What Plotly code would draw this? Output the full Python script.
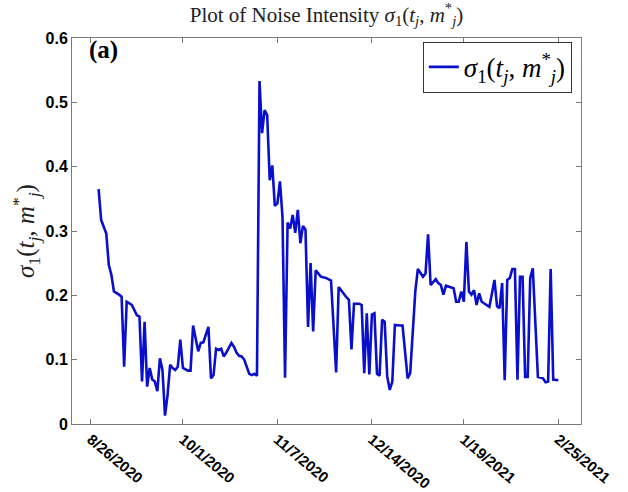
import pandas as pd
import plotly.graph_objects as go

# days after 8/26/2020
day_offsets = [3, 4, 6, 7, 8, 9, 11, 12, 13, 14, 16, 17, 18, 19, 20, 21, 22, 23, 24, 25,
               26, 27, 28, 29, 30, 31, 32, 33, 34, 35, 36, 38, 39, 40, 41, 42, 43, 44, 45, 46,
               47, 48, 49, 50, 51, 52, 53, 55, 56, 57, 58, 59, 60, 62, 63, 64, 65, 66, 67, 68,
               69, 70, 71, 72, 73, 74, 75, 76, 77, 78, 79, 80, 81, 82, 83, 84, 85, 86, 87, 88,
               90, 92, 94, 96, 97, 99, 100, 101, 102, 103, 105, 106, 107, 108, 109, 110, 111, 112, 113, 114,
               115, 116, 117, 118, 119, 121, 122, 124, 125, 127, 128, 130, 131, 132, 133, 135, 136, 137, 138, 139,
               141, 142, 143, 144, 145, 146, 147, 148, 149, 150, 151, 152, 153, 155, 156, 157, 158, 159, 160, 161,
               162, 163, 164, 165, 166, 167, 168, 169, 170, 171, 172, 173, 175, 177, 178, 179, 180, 181, 183]

sigma1 = [0.365, 0.317, 0.296, 0.247, 0.232, 0.206, 0.201, 0.198, 0.089, 0.190, 0.185, 0.177, 0.169, 0.167, 0.066, 0.159, 0.058, 0.087, 0.069, 0.066,
          0.051, 0.102, 0.084, 0.013, 0.045, 0.092, 0.087, 0.084, 0.089, 0.131, 0.087, 0.083, 0.083, 0.153, 0.133, 0.113, 0.126, 0.127, 0.139, 0.151,
          0.071, 0.076, 0.117, 0.115, 0.117, 0.105, 0.111, 0.126, 0.120, 0.111, 0.106, 0.105, 0.100, 0.078, 0.076, 0.078, 0.075, 0.533, 0.452, 0.488,
          0.480, 0.379, 0.402, 0.339, 0.343, 0.377, 0.322, 0.072, 0.313, 0.304, 0.325, 0.297, 0.333, 0.281, 0.308, 0.302, 0.151, 0.250, 0.144, 0.239,
          0.229, 0.227, 0.223, 0.080, 0.213, 0.201, 0.197, 0.193, 0.116, 0.187, 0.187, 0.185, 0.079, 0.172, 0.077, 0.170, 0.172, 0.078, 0.075, 0.162,
          0.159, 0.074, 0.053, 0.066, 0.154, 0.153, 0.153, 0.071, 0.079, 0.206, 0.241, 0.229, 0.234, 0.295, 0.216, 0.225, 0.219, 0.216, 0.201, 0.215,
          0.213, 0.211, 0.190, 0.190, 0.206, 0.190, 0.283, 0.206, 0.201, 0.208, 0.185, 0.203, 0.190, 0.185, 0.182, 0.203, 0.224, 0.183, 0.180, 0.219,
          0.068, 0.224, 0.227, 0.241, 0.241, 0.069, 0.229, 0.229, 0.073, 0.073, 0.227, 0.242, 0.073, 0.071, 0.065, 0.066, 0.241, 0.069, 0.068]

tick_dates = ['2020-08-26', '2020-10-01', '2020-11-07', '2020-12-14', '2021-01-19', '2021-02-25']
tick_labels = ['8/26/2020', '10/1/2020', '11/7/2020', '12/14/2020', '1/19/2021', '2/25/2021']

dates = pd.Timestamp('2020-08-26') + pd.to_timedelta(day_offsets, unit='D')

sig_label = '<i>σ</i><sub>1</sub>(<i>t<sub>j</sub></i>, <i>m</i><sup>*</sup><sub><i>j</i></sub>)'
serif = 'Liberation Serif'
axcol = '#7a7a7a'

fig = go.Figure()
fig.add_trace(go.Scatter(x=dates, y=sigma1, mode='lines', name=sig_label,
                         line=dict(color='#0a0fcc', width=2.6)))

fig.update_layout(
    width=628, height=492,
    margin=dict(l=72, r=47, t=38, b=68),
    paper_bgcolor='white', plot_bgcolor='white',
    title=dict(text='Plot of Noise Intensity ' + sig_label,
               x=0.5, xref='paper', y=0.971, yref='container', yanchor='middle',
               font=dict(family=serif, size=21, color='#222')),
    showlegend=True,
    legend=dict(x=0.982, y=0.99, xanchor='right', yanchor='top',
                bgcolor='white', bordercolor='#333', borderwidth=1,
                font=dict(family=serif, size=27, color='black'),
                itemwidth=30),
    font=dict(family='Liberation Sans', color='black'),
)

fig.update_xaxes(
    range=['2020-08-18 14:00', '2021-03-05 21:00'],
    tickvals=tick_dates, ticktext=tick_labels, tickangle=40,
    ticks='inside', ticklen=5, tickcolor=axcol, automargin=False,
    showline=True, linecolor=axcol, linewidth=1, mirror='ticks',
    showgrid=False, zeroline=False,
    tickfont=dict(family='Liberation Sans', size=15, weight='bold', color='black'),
)
fig.update_yaxes(
    range=[0, 0.6], tickvals=[0, 0.1, 0.2, 0.3, 0.4, 0.5, 0.6],
    ticktext=['0', '0.1', '0.2', '0.3', '0.4', '0.5', '0.6'],
    ticks='inside', ticklen=5, tickcolor=axcol, automargin=False,
    showline=True, linecolor=axcol, linewidth=1, mirror='ticks',
    showgrid=False, zeroline=False,
    tickfont=dict(family='Liberation Sans', size=16, weight='bold', color='black'),
    title=dict(text=sig_label, font=dict(family=serif, size=25, color='#222'), standoff=3),
)

fig.add_annotation(text='<b>(a)</b>', xref='paper', yref='paper', x=0.03, y=1.01,
                   xanchor='left', yanchor='top', showarrow=False,
                   font=dict(family=serif, size=25, color='black'))

# drop the default 8px body margin so the figure fills the window
fig.write_html('out.html', config={'displayModeBar': False},
               post_script="document.body.style.margin='0';")
